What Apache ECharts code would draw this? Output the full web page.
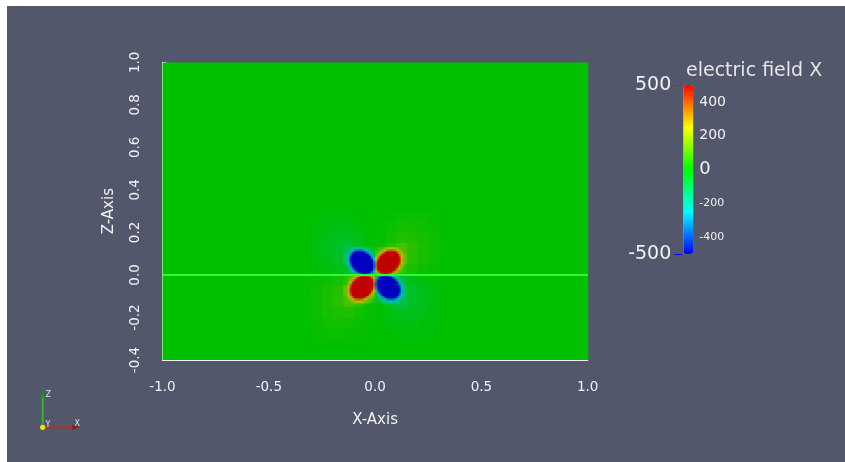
<!DOCTYPE html>
<html><head><meta charset="utf-8">
<script src="https://cdn.jsdelivr.net/npm/echarts@6/dist/echarts.min.js"></script>
<style>
html,body{margin:0;padding:0;background:#ffffff;}
#c{position:absolute;left:7px;top:6px;width:838px;height:456px;}
</style></head><body><div id="c"></div>
<script>
// ---------------- data ----------------
const fieldTitle = 'electric field X';
const xAxisName = 'X-Axis';
const zAxisName = 'Z-Axis';
const xRange = [-1, 1];
const zRange = [-0.4, 1.0];
const xTickStep = 0.5;
const zTickStep = 0.2;
const colorRange = [-500, 500];
const colorbarLabels = [400, 200, 0, -200, -400];
const colorbarTickRange = [-480, 480];
const colorbarTickStep = 40;
const colorbarEnds = [500, -500];
const baseValue = 0;
const zeroLine = [[-1, 0], [1, 0]];

// medium grid: cells 0.05 wide, x from -0.3 to 0.3, z from 0.3 down to -0.3
const medX0 = -0.3, medZ0 = 0.3, medStep = 0.05;
const medRows = [
  [-8,-12,-14,-12,-8,-3,3,8,12,14,12,8],
  [-12,-18,-24,-22,-14,-4,4,14,22,24,18,12],
  [-15,-26,-38,-40,-25,-6,6,25,40,38,26,15],
  [-18,-32,-55,-95,-60,-8,8,60,95,55,32,18],
  [-14,-28,-50,-130,-120,-8,8,120,130,50,28,14],
  [-8,-16,-30,-60,-60,-4,4,60,60,30,16,8],
  [8,16,30,60,60,4,-4,-60,-60,-30,-16,-8],
  [14,28,50,130,120,8,-8,-120,-130,-50,-28,-14],
  [18,32,55,95,60,8,-8,-60,-95,-55,-32,-18],
  [15,26,38,40,25,6,-6,-25,-40,-38,-26,-15],
  [12,18,24,22,14,4,-4,-14,-22,-24,-18,-12],
  [8,12,14,12,8,3,-3,-8,-12,-14,-12,-8]
];

// fine grid: cells 0.01 wide, x from -0.13 to 0.13, z from 0.13 down to -0.13
const fineX0 = -0.13, fineZ0 = 0.13, fineStep = 0.01;
const fineRows = [
  [-96,-128,-164,-198,-217,-220,-205,-174,-138,-104,-80,-59,-46,46,59,80,104,138,174,205,220,217,198,164,128,96],
  [-134,-191,-261,-326,-369,-382,-362,-311,-243,-176,-121,-86,-61,61,86,121,176,243,311,362,382,369,326,261,191,134],
  [-180,-273,-381,-500,-600,-640,-620,-530,-416,-301,-201,-129,-86,86,129,201,301,416,530,620,640,600,500,381,273,180],
  [-225,-357,-530,-700,-700,-700,-700,-700,-700,-485,-323,-201,-121,121,201,323,485,700,700,700,700,700,700,530,357,225],
  [-265,-430,-700,-700,-700,-700,-700,-700,-700,-700,-485,-301,-176,176,301,485,700,700,700,700,700,700,700,700,430,265],
  [-280,-470,-700,-700,-700,-700,-700,-700,-700,-700,-700,-416,-243,243,416,700,700,700,700,700,700,700,700,700,470,280],
  [-270,-465,-700,-700,-700,-700,-700,-700,-700,-700,-700,-530,-311,311,530,700,700,700,700,700,700,700,700,700,465,270],
  [-237,-416,-700,-700,-700,-700,-700,-700,-700,-700,-700,-620,-362,362,620,700,700,700,700,700,700,700,700,700,416,237],
  [-192,-340,-580,-700,-700,-700,-700,-700,-700,-700,-700,-640,-382,382,640,700,700,700,700,700,700,700,700,580,340,192],
  [-145,-250,-420,-700,-700,-700,-700,-700,-700,-700,-700,-600,-369,369,600,700,700,700,700,700,700,700,700,420,250,145],
  [-105,-175,-290,-455,-700,-700,-700,-700,-700,-700,-700,-500,-326,326,500,700,700,700,700,700,700,700,455,290,175,105],
  [-80,-116,-187,-290,-420,-580,-700,-700,-700,-700,-530,-381,-261,261,381,530,700,700,700,700,580,420,290,187,116,80],
  [-58,-82,-116,-175,-250,-340,-416,-465,-470,-430,-357,-273,-110,110,273,357,430,470,465,416,340,250,175,116,82,58],
  [58,82,116,175,250,340,416,465,470,430,357,273,110,-110,-273,-357,-430,-470,-465,-416,-340,-250,-175,-116,-82,-58],
  [80,116,187,290,420,580,700,700,700,700,530,381,261,-261,-381,-530,-700,-700,-700,-700,-580,-420,-290,-187,-116,-80],
  [105,175,290,455,700,700,700,700,700,700,700,500,326,-326,-500,-700,-700,-700,-700,-700,-700,-700,-455,-290,-175,-105],
  [145,250,420,700,700,700,700,700,700,700,700,600,369,-369,-600,-700,-700,-700,-700,-700,-700,-700,-700,-420,-250,-145],
  [192,340,580,700,700,700,700,700,700,700,700,640,382,-382,-640,-700,-700,-700,-700,-700,-700,-700,-700,-580,-340,-192],
  [237,416,700,700,700,700,700,700,700,700,700,620,362,-362,-620,-700,-700,-700,-700,-700,-700,-700,-700,-700,-416,-237],
  [270,465,700,700,700,700,700,700,700,700,700,530,311,-311,-530,-700,-700,-700,-700,-700,-700,-700,-700,-700,-465,-270],
  [280,470,700,700,700,700,700,700,700,700,700,416,243,-243,-416,-700,-700,-700,-700,-700,-700,-700,-700,-700,-470,-280],
  [265,430,700,700,700,700,700,700,700,700,485,301,176,-176,-301,-485,-700,-700,-700,-700,-700,-700,-700,-700,-430,-265],
  [225,357,530,700,700,700,700,700,700,485,323,201,121,-121,-201,-323,-485,-700,-700,-700,-700,-700,-700,-530,-357,-225],
  [180,273,381,500,600,640,620,530,416,301,201,129,86,-86,-129,-201,-301,-416,-530,-620,-640,-600,-500,-381,-273,-180],
  [134,191,261,326,369,382,362,311,243,176,121,86,61,-61,-86,-121,-176,-243,-311,-362,-382,-369,-326,-261,-191,-134],
  [96,128,164,198,217,220,205,174,138,104,80,59,46,-46,-59,-80,-104,-138,-174,-205,-220,-217,-198,-164,-128,-96]
];

// ---------------- build ----------------
function cellsFrom(rows, x0, z0, step) {
  const out = [];
  rows.forEach((row, r) => row.forEach((v, c) => {
    out.push([x0 + c * step, x0 + (c + 1) * step, z0 - (r + 1) * step, z0 - r * step, v]);
  }));
  return out;
}
const fieldData = [[xRange[0], xRange[1], zRange[0], zRange[1], baseValue]]
  .concat(cellsFrom(medRows, medX0, medZ0, medStep))
  .concat(cellsFrom(fineRows, fineX0, fineZ0, fineStep));

const FONT = 'DejaVu Sans';
const TXT = '#f2f2f2';
const plotColors = ['#0000c0', '#00c0c0', '#00c000', '#c0c000', '#c00000'];
const barColors = ['#0000ff', '#00ffff', '#00ff00', '#ffff00', '#ff0000'];

function renderCell(params, api) {
  const p0 = api.coord([api.value(0), api.value(3)]);
  const p1 = api.coord([api.value(1), api.value(2)]);
  return {
    type: 'rect',
    shape: { x: p0[0], y: p0[1], width: p1[0] - p0[0] + 0.6, height: p1[1] - p0[1] + 0.6 },
    style: { fill: api.visual('color') }
  };
}
function renderEnd(params, api) {
  const p = api.coord([0, api.value(1)]);
  return {
    type: 'line',
    shape: { x1: p[0] - 9, y1: p[1] + 0.5, x2: p[0] - 1, y2: p[1] + 0.5 },
    style: { stroke: api.visual('color'), lineWidth: 1 }
  };
}

const chart = echarts.init(document.getElementById('c'), null, { renderer: 'canvas' });
const white = { color: '#ffffff' };
chart.setOption({
  animation: false,
  backgroundColor: '#52576b',
  title: {
    text: fieldTitle, left: 679, top: 56, padding: 0,
    textStyle: { color: '#e6e6e6', fontFamily: FONT, fontSize: 19, fontWeight: 'normal' }
  },
  grid: [
    { left: 155.5, top: 56.3, width: 425.2, height: 297.7 },
    { left: 676.3, top: 82.38, width: 10, height: 162.24 },
    { left: 676.3, top: 79, width: 10, height: 169 }
  ],
  xAxis: [
    {
      gridIndex: 0, type: 'value', min: xRange[0], max: xRange[1], interval: xTickStep,
      axisLine: { onZero: false, lineStyle: white },
      axisTick: { inside: true, length: 4, lineStyle: white },
      minorTick: { show: true, splitNumber: 10, length: 2, lineStyle: white },
      splitLine: { show: false },
      axisLabel: { color: TXT, fontFamily: FONT, fontSize: 13.5, margin: 20, formatter: v => v.toFixed(1) },
      name: xAxisName, nameLocation: 'middle', nameGap: 53,
      nameTextStyle: { color: TXT, fontFamily: FONT, fontSize: 15 }
    },
    { gridIndex: 1, type: 'value', show: false, min: 0, max: 1 },
    { gridIndex: 2, type: 'value', show: false, min: 0, max: 1 }
  ],
  yAxis: [
    {
      gridIndex: 0, type: 'value', min: zRange[0], max: zRange[1], interval: zTickStep,
      axisLine: { onZero: false, lineStyle: white },
      axisTick: { inside: true, length: 4, lineStyle: white },
      minorTick: { show: true, splitNumber: 10, length: 2, lineStyle: white },
      splitLine: { show: false },
      axisLabel: { color: TXT, fontFamily: FONT, fontSize: 13.5, margin: 20, rotate: 90, formatter: v => v.toFixed(1) },
      name: zAxisName, nameLocation: 'middle', nameGap: 46, nameRotate: 90,
      nameTextStyle: { color: TXT, fontFamily: FONT, fontSize: 15 }
    },
    {
      gridIndex: 1, type: 'value', position: 'right',
      min: colorbarTickRange[0], max: colorbarTickRange[1], interval: colorbarTickStep,
      axisLine: { show: false },
      axisTick: { show: true, inside: false, length: 5, lineStyle: { color: '#c4c4c4' } },
      splitLine: { show: false },
      axisLabel: {
        margin: 6, color: TXT, fontFamily: FONT,
        formatter: v => {
          const r = Math.round(v);
          if (colorbarLabels.indexOf(r) < 0) return '';
          const k = r === 0 ? 'z' : (r < 0 ? 'n' : 'p');
          return '{' + k + '|' + r + '}';
        },
        rich: {
          p: { fontSize: 14, color: TXT, fontFamily: FONT },
          z: { fontSize: 18, color: TXT, fontFamily: FONT },
          n: { fontSize: 11, color: TXT, fontFamily: FONT }
        }
      }
    },
    {
      gridIndex: 2, type: 'value', position: 'left',
      min: colorRange[0], max: colorRange[1], interval: 500,
      axisLine: { show: false }, axisTick: { show: false }, splitLine: { show: false },
      axisLabel: {
        margin: 12, color: TXT, fontFamily: FONT, fontSize: 19,
        formatter: v => (colorbarEnds.indexOf(Math.round(v)) < 0 ? '' : String(Math.round(v)))
      }
    }
  ],
  visualMap: [
    {
      type: 'continuous', show: false, seriesIndex: 0, dimension: 4,
      min: colorRange[0], max: colorRange[1], inRange: { color: plotColors }
    },
    {
      type: 'continuous', show: true, seriesIndex: 2, dimension: 1,
      min: colorRange[0], max: colorRange[1], inRange: { color: barColors },
      left: 676.3, top: 79, itemWidth: 10, itemHeight: 169, padding: 0,
      calculable: false, hoverLink: false, text: null
    }
  ],
  series: [
    {
      type: 'custom', xAxisIndex: 0, yAxisIndex: 0, clip: true, silent: true,
      renderItem: renderCell, data: fieldData
    },
    {
      type: 'line', xAxisIndex: 0, yAxisIndex: 0, data: zeroLine, symbol: 'none', silent: true,
      lineStyle: { color: '#2cff2c', width: 2 }, z: 5, clip: true
    },
    {
      type: 'custom', xAxisIndex: 2, yAxisIndex: 2, silent: true,
      renderItem: renderEnd, data: colorbarEnds.map(v => [0, v])
    }
  ],
  graphic: [
    { type: 'line', shape: { x1: 35.7, y1: 421.3, x2: 35.7, y2: 391 }, style: { stroke: '#2fb52f', lineWidth: 2 }, silent: true },
    { type: 'polygon', shape: { points: [[35.7, 385.5], [33.2, 392], [38.2, 392]] }, style: { fill: '#1f9a1f' }, silent: true },
    { type: 'line', shape: { x1: 35.7, y1: 421.3, x2: 66, y2: 421.3 }, style: { stroke: '#b82a2a', lineWidth: 2 }, silent: true },
    { type: 'polygon', shape: { points: [[72, 421.3], [65.5, 418.8], [65.5, 423.8]] }, style: { fill: '#9c0f0f' }, silent: true },
    { type: 'circle', shape: { cx: 35.7, cy: 421.3, r: 2.6 }, style: { fill: '#e6e600' }, silent: true },
    { type: 'text', style: { x: 38.5, y: 385, text: 'Z', fill: '#e0e0e0', font: '8px DejaVu Sans' }, silent: true },
    { type: 'text', style: { x: 38.5, y: 414.5, text: 'Y', fill: '#e0e0e0', font: '8px DejaVu Sans' }, silent: true },
    { type: 'text', style: { x: 67.5, y: 413.5, text: 'X', fill: '#e0e0e0', font: '8px DejaVu Sans' }, silent: true }
  ]
});
</script></body></html>
